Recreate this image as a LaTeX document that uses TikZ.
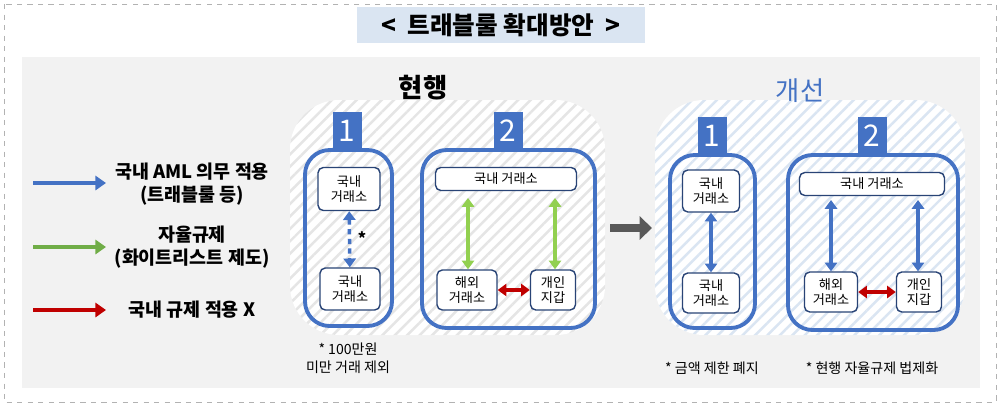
\documentclass[tikz,border=0pt]{standalone}
\usepackage{fontspec}
\setmainfont{Noto Sans CJK KR}
\usetikzlibrary{patterns.meta,arrows.meta}
\definecolor{bl}{HTML}{4472C4}
\definecolor{gr}{HTML}{92D050}
\definecolor{lg}{HTML}{70AD47}
\definecolor{rd}{HTML}{C00000}
\definecolor{tb}{HTML}{DAE5F2}
\begin{document}
\begin{tikzpicture}[x=0.02cm,y=-0.02cm,
 frame/.style={draw=bl,line width=2.2pt,rounded corners=14pt},
 tab/.style={fill=bl,text=white,font=\fontsize{17}{17}\selectfont,inner sep=0pt,minimum width=0.58cm,minimum height=0.76cm},
 ibox/.style={draw=bl!60!black,line width=0.8pt,fill=white,rounded corners=3pt,align=center,font=\fontsize{7.5}{9}\selectfont,inner sep=1pt},
 region/.style={rounded corners=28pt,pattern={Lines[angle=45,distance=5pt,line width=1.4pt]}},
 da/.style={{Triangle[length=5pt,width=7pt]}-{Triangle[length=5pt,width=7pt]},line width=2pt},
 leg/.style={-{Triangle[length=6pt,width=8pt]},line width=2.2pt},
 lt/.style={align=center,font=\fontsize{10.5}{13}\selectfont\bfseries},
 note/.style={align=center,font=\fontsize{8}{10}\selectfont}]
\useasboundingbox (0,0) rectangle (1000,407);
\draw[gray!60,dashed] (4,4) rectangle (996,402);
\node[fill=tb,minimum width=5.76cm,minimum height=0.68cm,font=\fontsize{14}{14}\selectfont\bfseries] (title) at (501,25) {<\ \ 트래블룰 확대방안\ \ >};
\fill[gray!10] (22,57) rectangle (980,388);
% legend
\coordinate (l1a) at (33,183); \coordinate (l1b) at (106,183);
\coordinate (l2a) at (33,247); \coordinate (l2b) at (106,247);
\coordinate (l3a) at (33,310); \coordinate (l3b) at (106,310);
\draw[leg,bl] (l1a)--(l1b); \draw[leg,lg] (l2a)--(l2b); \draw[leg,rd] (l3a)--(l3b);
\node[lt] (t1) at (192,184) {국내 AML 의무 적용\\(트래블룰 등)};
\node[lt] (t2) at (192,247) {자율규제\\(화이트리스트 제도)};
\node[lt] (t3) at (192,310) {국내 규제 적용 X};
% left region
\fill[white,rounded corners=28pt] (290,100) rectangle (605,335);
\fill[region,pattern color=gray!20] (290,100) rectangle (605,335);
\node[font=\fontsize{15}{15}\selectfont\bfseries] (h1) at (423,88) {현행};
\node[tab] (a1) at (347,131) {1};
\draw[frame] (305,150) rectangle (392,326);
\node[ibox,minimum width=1.24cm,minimum height=0.86cm] (a1t) at (349,189) {국내\\거래소};
\node[ibox,minimum width=1.2cm,minimum height=0.84cm] (a1b) at (350,289) {국내\\거래소};
\draw[da,bl,dash pattern=on 3pt off 2.5pt] (a1t)--(a1b);
\node[font=\fontsize{9}{9}\selectfont\bfseries] (st) at (362,238) {*};
\node[tab] (a2) at (508,131) {2};
\draw[frame] (422,150) rectangle (595,328);
\node[ibox,minimum width=2.82cm,minimum height=0.46cm] (a2t) at (506,179) {국내 거래소};
\node[ibox,minimum width=1.2cm,minimum height=0.8cm] (a2l) at (467,290) {해외\\거래소};
\node[ibox,minimum width=0.9cm,minimum height=0.8cm] (a2r) at (553,290) {개인\\지갑};
\coordinate (g1) at (468,198); \coordinate (g2) at (555,198);
\draw[da,gr] (g1)--(a2l.north -| g1);
\draw[da,gr] (g2)--(a2r.north -| g2);
\draw[da,rd] (a2l)--(a2r);
\node[note] (n1) at (348,358) {* 100만원\\미만 거래 제외};
% middle arrow
\coordinate (ma) at (610,228); \coordinate (mb) at (652,228);
\draw[-{Triangle[length=7pt,width=13pt]},line width=5pt,gray!70!black] (ma)--(mb);
% right region
\fill[white,rounded corners=28pt] (655,100) rectangle (965,335);
\fill[region,pattern color=tb] (655,100) rectangle (965,335);
\node[font=\fontsize{15}{15}\selectfont,text=bl] (h2) at (800,91) {개선};
\node[tab] (b1) at (712,136) {1};
\draw[frame] (670,155) rectangle (755,328);
\node[ibox,minimum width=1.14cm,minimum height=0.84cm] (b1t) at (711,191) {국내\\거래소};
\node[ibox,minimum width=1.14cm,minimum height=0.8cm] (b1b) at (711,293) {국내\\거래소};
\draw[da,bl] (b1t)--(b1b);
\node[tab] (b2) at (872,136) {2};
\draw[frame] (788,155) rectangle (958,330);
\node[ibox,minimum width=2.9cm,minimum height=0.46cm] (b2t) at (872,184) {국내 거래소};
\node[ibox,minimum width=1.06cm,minimum height=0.8cm] (b2l) at (831,292) {해외\\거래소};
\node[ibox,minimum width=0.9cm,minimum height=0.8cm] (b2r) at (919,292) {개인\\지갑};
\coordinate (c1) at (831,200); \coordinate (c2) at (918,200);
\draw[da,bl] (c1)--(b2l.north -| c1);
\draw[da,bl] (c2)--(b2r.north -| c2);
\draw[da,rd] (b2l)--(b2r);
\node[note] (n2) at (712,368) {* 금액 제한 폐지};
\node[note] (n3) at (872,368) {* 현행 자율규제 법제화};
\end{tikzpicture}
\end{document}
